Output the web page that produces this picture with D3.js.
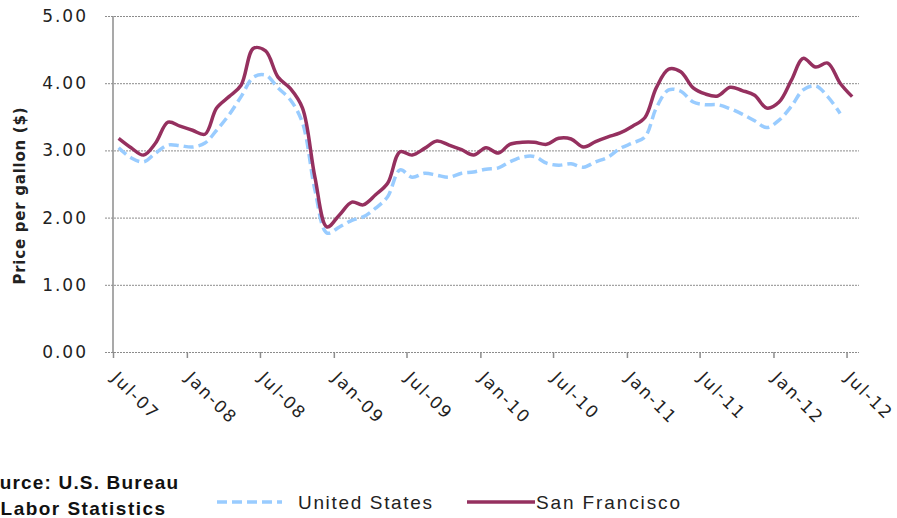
<!DOCTYPE html>
<html>
<head>
<meta charset="utf-8">
<script src="https://cdn.jsdelivr.net/npm/d3@7"></script>
<style>
  html, body { margin: 0; padding: 0; background: #fff; }
  svg { display: block; }
</style>
</head>
<body>
<svg id="chart" width="897" height="518"></svg>
<script>
// ---- Data (monthly, Jul-2007 .. Jul-2012) ----
const startYear = 2007, startMonth = 6; // July (0-based)
const sanFrancisco = [
  3.18, 3.04, 2.93, 3.11, 3.42, 3.36, 3.30, 3.24, 3.63, 3.80, 3.97, 4.52,
  4.48, 4.09, 3.92, 3.63, 2.60, 1.86, 2.04, 2.23, 2.19, 2.34, 2.51, 2.98,
  2.93, 3.03, 3.14, 3.08, 3.01, 2.93, 3.04, 2.96, 3.09, 3.12, 3.12, 3.09,
  3.18, 3.17, 3.05, 3.13, 3.20, 3.26, 3.36, 3.49, 3.93, 4.21, 4.17, 3.93,
  3.84, 3.81, 3.94, 3.89, 3.82, 3.63, 3.72, 4.05, 4.37, 4.24, 4.30, 4.00,
  3.80
];
const unitedStates = [
  3.04, 2.89, 2.83, 2.96, 3.08, 3.07, 3.05, 3.11, 3.30, 3.53, 3.80, 4.09,
  4.12, 3.93, 3.75, 3.41, 2.41, 1.77, 1.86, 1.96, 2.01, 2.14, 2.31, 2.71,
  2.60, 2.66, 2.63, 2.60, 2.66, 2.68, 2.72, 2.74, 2.83, 2.90, 2.91, 2.81,
  2.78, 2.80, 2.75, 2.83, 2.90, 3.03, 3.11, 3.20, 3.63, 3.90, 3.88, 3.72,
  3.68, 3.68, 3.62, 3.54, 3.44, 3.34, 3.45, 3.66, 3.90, 3.96, 3.80, 3.55
];
const yTicks = [0, 1, 2, 3, 4, 5];
const xTickLabels = ["Jul-07","Jan-08","Jul-08","Jan-09","Jul-09","Jan-10",
                     "Jul-10","Jan-11","Jul-11","Jan-12","Jul-12"];
const seriesNames = ["United States", "San Francisco"];
const yTitle = "Price per gallon  ($)";
const sourceLines = ["Source: U.S. Bureau", "of Labor Statistics"];

// ---- Build ----
const svg = d3.select("#chart");
const dateOf = i => new Date(startYear, startMonth + i, 15);
const tickDates = xTickLabels.map((_, i) => new Date(startYear, startMonth + 6 * i, 1));

const x = d3.scaleTime()
  .domain([new Date(2007, 6, 1), new Date(2012, 7, 1)])
  .range([113, 859]);
const y = d3.scaleLinear().domain([0, 5]).range([352, 16]);

const gridColor = "#8c8c8c";
const axisFont = "DejaVu Sans, Verdana, sans-serif";

// horizontal grid lines + y tick labels
const yAxis = d3.axisLeft(y)
  .tickValues(yTicks)
  .tickSize(-(859 - 105))
  .tickPadding(0)
  .tickFormat(d3.format(".2f"));
const gy = svg.append("g").attr("transform", "translate(105,0)").call(yAxis);
gy.select(".domain").remove();
gy.selectAll(".tick line")
  .attr("stroke", gridColor).attr("stroke-width", 1)
  .attr("stroke-dasharray", "2,1");
gy.selectAll(".tick text")
  .attr("x", -17)
  .attr("font-family", axisFont)
  .attr("font-size", 17)
  .attr("letter-spacing", 2)
  .attr("fill", "#222");

// vertical axis line
svg.append("line")
  .attr("x1", 113).attr("x2", 113).attr("y1", y(5)).attr("y2", y(0))
  .attr("stroke", gridColor).attr("stroke-width", 1.5);

// x axis with ticks
const xAxis = d3.axisBottom(x).tickValues(tickDates).tickSize(6).tickFormat((d, i) => xTickLabels[i]);
const gx = svg.append("g").attr("transform", `translate(0,${y(0)})`).call(xAxis);
gx.select(".domain").remove();
gx.selectAll(".tick line").attr("stroke", gridColor).attr("stroke-width", 1.5);
gx.selectAll(".tick text")
  .attr("font-family", axisFont)
  .attr("font-size", 17)
  .attr("letter-spacing", 1.8)
  .attr("fill", "#222")
  .attr("text-anchor", "start")
  .attr("dy", 0)
  .attr("y", 0)
  .attr("transform", "translate(-3,27) rotate(45)");

// lines
const line = d3.line()
  .x((d, i) => x(dateOf(i)))
  .y(d => y(d))
  .curve(d3.curveCatmullRom.alpha(0.5));

svg.append("path")
  .datum(unitedStates)
  .attr("d", line)
  .attr("fill", "none")
  .attr("stroke", "#99ccff")
  .attr("stroke-width", 3.5)
  .attr("stroke-dasharray", "10,5");

svg.append("path")
  .datum(sanFrancisco)
  .attr("d", line)
  .attr("fill", "none")
  .attr("stroke", "#95305f")
  .attr("stroke-width", 3.5)
  .attr("stroke-linejoin", "round");

// y title
svg.append("text")
  .attr("transform", "translate(25,196) rotate(-90)")
  .attr("text-anchor", "middle")
  .attr("font-family", axisFont)
  .attr("font-size", 15)
  .attr("font-weight", "bold")
  .attr("textLength", 177)
  .attr("fill", "#222")
  .text(yTitle);

// legend
const lg = svg.append("g");
lg.append("line").attr("x1", 217).attr("x2", 282).attr("y1", 502).attr("y2", 502)
  .attr("stroke", "#99ccff").attr("stroke-width", 3.5).attr("stroke-dasharray", "10,5");
lg.append("text").attr("x", 298).attr("y", 509)
  .attr("font-family", "Liberation Sans, Arial, sans-serif").attr("font-size", 19)
  .attr("textLength", 134).attr("fill", "#222").text(seriesNames[0]);
lg.append("line").attr("x1", 467).attr("x2", 535).attr("y1", 502).attr("y2", 502)
  .attr("stroke", "#95305f").attr("stroke-width", 3.5);
lg.append("text").attr("x", 536).attr("y", 509)
  .attr("font-family", "Liberation Sans, Arial, sans-serif").attr("font-size", 19)
  .attr("textLength", 144).attr("fill", "#222").text(seriesNames[1]);

// source note (clipped at the left edge, as in the reference)
const src = svg.append("g")
  .attr("font-family", "Liberation Sans, Arial, sans-serif")
  .attr("font-weight", "bold").attr("font-size", 19).attr("fill", "#111");
src.append("text").attr("x", -27).attr("y", 489).attr("textLength", 205).text(sourceLines[0]);
src.append("text").attr("x", -27).attr("y", 515).attr("textLength", 192).text(sourceLines[1]);
</script>
</body>
</html>
